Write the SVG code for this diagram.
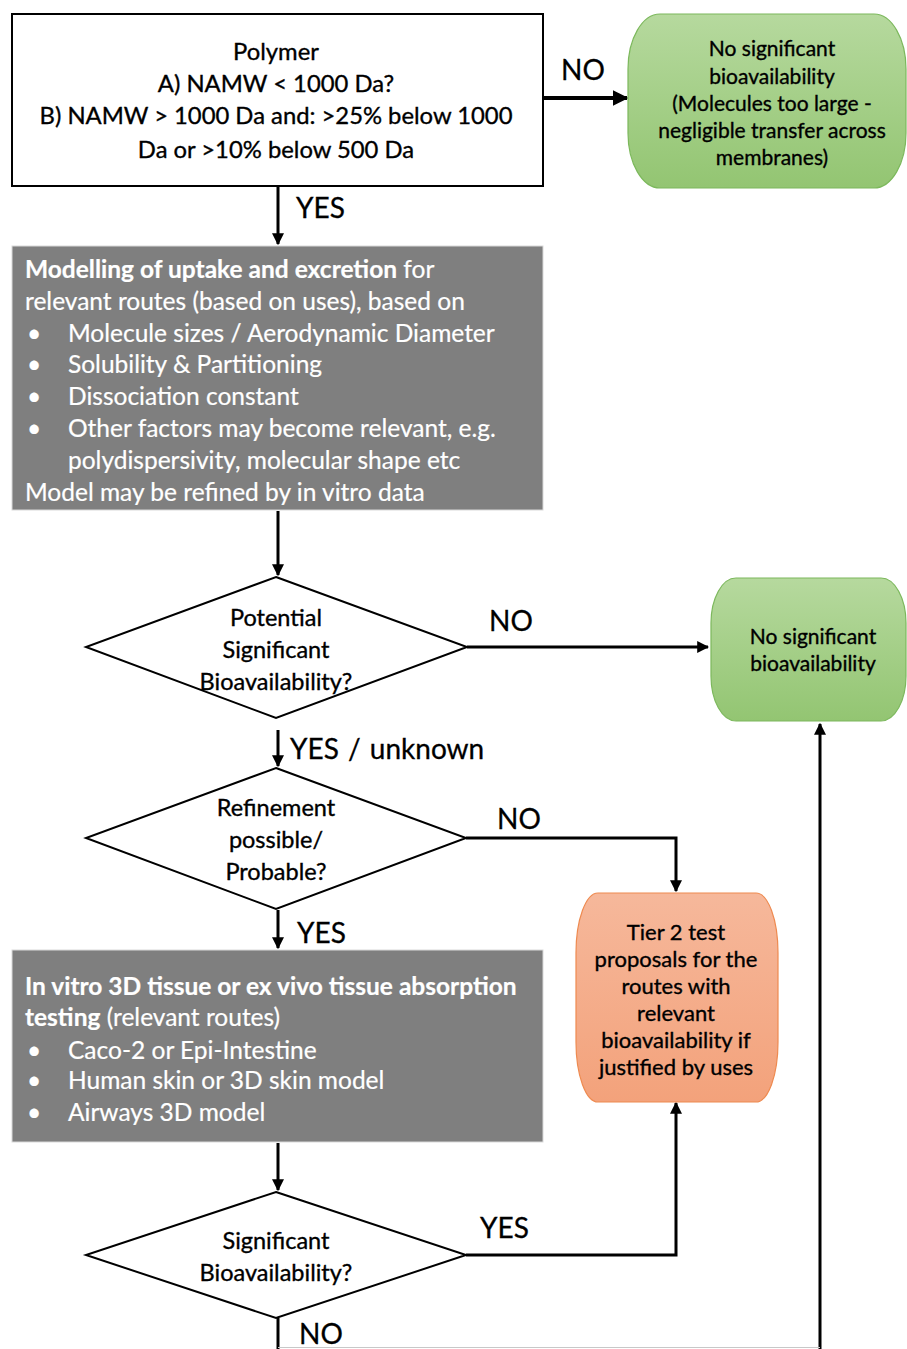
<svg xmlns="http://www.w3.org/2000/svg" width="907" height="1349" viewBox="0 0 907 1349">
<style>
text{font-family:Lato,"Open Sans","Liberation Sans",sans-serif;}
.box{fill:#fff;stroke:#000;stroke-width:2}
.grey{fill:#7f7f7f;stroke:#d9d9d9;stroke-width:1}
.dia{fill:#fff;stroke:#000;stroke-width:2}
.green{fill:url(#gg);stroke:#7cb85c;stroke-width:1.2}
.orange{fill:url(#og);stroke:#ee8a50;stroke-width:1.2}
.t{fill:#000;text-anchor:middle;stroke:#000;stroke-width:0.35}
.w{fill:#fff;font-size:24.5px;stroke:#fff;stroke-width:0.2}
.lbl{fill:#000;font-size:28px;stroke:#000;stroke-width:0.3}
.c{fill:none;stroke:#000;stroke-width:3}
.ct{fill:none;stroke:#000;stroke-width:4}
</style>
<defs>
<linearGradient id="gg" x1="0" y1="0" x2="0" y2="1"><stop offset="0" stop-color="#b6d99e"/><stop offset="1" stop-color="#93c572"/></linearGradient>
<linearGradient id="og" x1="0" y1="0" x2="0" y2="1"><stop offset="0" stop-color="#f6b89b"/><stop offset="1" stop-color="#f3a27b"/></linearGradient>
<marker id="ah" viewBox="0 0 10 10" refX="9" refY="5" markerWidth="4" markerHeight="4" orient="auto" markerUnits="strokeWidth"><path d="M0,0 L10,5 L0,10 z" fill="#000"/></marker>
</defs>

<g id="connectors">
<line class="ct" x1="543" y1="98" x2="627" y2="98" marker-end="url(#ah)"/>
<line class="c" x1="278" y1="186" x2="278" y2="244" marker-end="url(#ah)"/>
<line class="c" x1="278" y1="511" x2="278" y2="575" marker-end="url(#ah)"/>
<line class="c" x1="467" y1="647" x2="708" y2="647" marker-end="url(#ah)"/>
<line class="c" x1="278" y1="730" x2="278" y2="766" marker-end="url(#ah)"/>
<polyline class="c" points="466,838 676,838 676,891" marker-end="url(#ah)"/>
<line class="c" x1="278" y1="910" x2="278" y2="948" marker-end="url(#ah)"/>
<line class="c" x1="278" y1="1143" x2="278" y2="1190" marker-end="url(#ah)"/>
<polyline class="c" points="466,1255 676,1255 676,1103" marker-end="url(#ah)"/>
<line class="c" x1="278" y1="1318" x2="278" y2="1349"/>
<line class="c" x1="820" y1="1349" x2="820" y2="724" marker-end="url(#ah)"/>
<line x1="278" y1="1347.5" x2="820" y2="1347.5" stroke="#c8c8c8" stroke-width="1"/>
<text class="lbl" x="561" y="80">NO</text>
<text class="lbl" x="296" y="218">YES</text>
<text class="lbl" x="489" y="631">NO</text>
<text class="lbl" x="290" y="759" font-size="30" word-spacing="2">YES / unknown</text>
<text class="lbl" x="497" y="829">NO</text>
<text class="lbl" x="297" y="943">YES</text>
<text class="lbl" x="480" y="1238">YES</text>
<text class="lbl" x="299" y="1344">NO</text>
</g>

<g id="polymer">
<rect class="box" x="12" y="14" width="531" height="172"/>
<text class="t" font-size="23.8" x="276"><tspan x="276" y="60">Polymer</tspan><tspan x="276" y="92">A) NAMW &lt; 1000 Da?</tspan><tspan x="276" y="124">B) NAMW &gt; 1000 Da and: &gt;25% below 1000</tspan><tspan x="276" y="158">Da or &gt;10% below 500 Da</tspan></text>
</g>

<g id="nosig1">
<rect class="green" x="628" y="14" width="278" height="174" rx="32" ry="55"/>
<text class="t" font-size="21" x="772"><tspan x="772" y="56">No significant</tspan><tspan x="772" y="84">bioavailability</tspan><tspan x="772" y="111">(Molecules too  large -</tspan><tspan x="772" y="138">negligible transfer across</tspan><tspan x="772" y="165">membranes)</tspan></text>
</g>

<g id="modelling">
<rect class="grey" x="12" y="246" width="531" height="264"/>
<text class="w" x="25" y="278"><tspan font-weight="bold">Modelling of uptake and excretion</tspan> for</text>
<text class="w" x="25" y="310">relevant routes (based on uses), based on</text>
<text class="w" x="27" y="342">•</text><text class="w" x="68" y="342">Molecule sizes / Aerodynamic Diameter</text>
<text class="w" x="27" y="373">•</text><text class="w" x="68" y="373">Solubility &amp; Partitioning</text>
<text class="w" x="27" y="405">•</text><text class="w" x="68" y="405">Dissociation constant</text>
<text class="w" x="27" y="437">•</text><text class="w" x="68" y="437">Other factors may become relevant, e.g.</text>
<text class="w" x="68" y="469">polydispersivity, molecular shape etc</text>
<text class="w" x="25" y="501">Model may be refined by in vitro data</text>
</g>

<g id="potential">
<polygon class="dia" points="276,577 467,647 276,718 86,647"/>
<text class="t" font-size="23.5" x="276"><tspan x="276" y="626">Potential</tspan><tspan x="276" y="658">Significant</tspan><tspan x="276" y="690">Bioavailability?</tspan></text>
</g>

<g id="nosig2">
<rect class="green" x="711" y="578" width="195" height="143" rx="25" ry="45"/>
<text class="t" font-size="21" x="813"><tspan x="813" y="644">No significant</tspan><tspan x="813" y="671">bioavailability</tspan></text>
</g>

<g id="refinement">
<polygon class="dia" points="276,768 466,838 276,909 86,838"/>
<text class="t" font-size="23.5" x="276"><tspan x="276" y="816">Refinement</tspan><tspan x="276" y="848">possible/</tspan><tspan x="276" y="880">Probable?</tspan></text>
</g>

<g id="tier2">
<rect class="orange" x="576" y="893" width="202" height="209" rx="22" ry="60"/>
<text class="t" font-size="22" x="676"><tspan x="676" y="940">Tier 2 test</tspan><tspan x="676" y="967">proposals for the</tspan><tspan x="676" y="994">routes with</tspan><tspan x="676" y="1021">relevant</tspan><tspan x="676" y="1048">bioavailability if</tspan><tspan x="676" y="1075">justified by uses</tspan></text>
</g>

<g id="invitro">
<rect class="grey" x="12" y="950" width="531" height="192"/>
<text class="w" x="25" y="995"><tspan font-weight="bold">In vitro 3D tissue or ex vivo tissue absorption</tspan></text>
<text class="w" x="25" y="1026"><tspan font-weight="bold">testing</tspan> (relevant routes)</text>
<text class="w" x="27" y="1059">•</text><text class="w" x="68" y="1059">Caco-2 or Epi-Intestine</text>
<text class="w" x="27" y="1089">•</text><text class="w" x="68" y="1089">Human skin or 3D skin model</text>
<text class="w" x="27" y="1121">•</text><text class="w" x="68" y="1121">Airways 3D model</text>
</g>

<g id="significant">
<polygon class="dia" points="276,1192 466,1255 276,1318 86,1255"/>
<text class="t" font-size="23.5" x="276"><tspan x="276" y="1249">Significant</tspan><tspan x="276" y="1281">Bioavailability?</tspan></text>
</g>
</svg>
